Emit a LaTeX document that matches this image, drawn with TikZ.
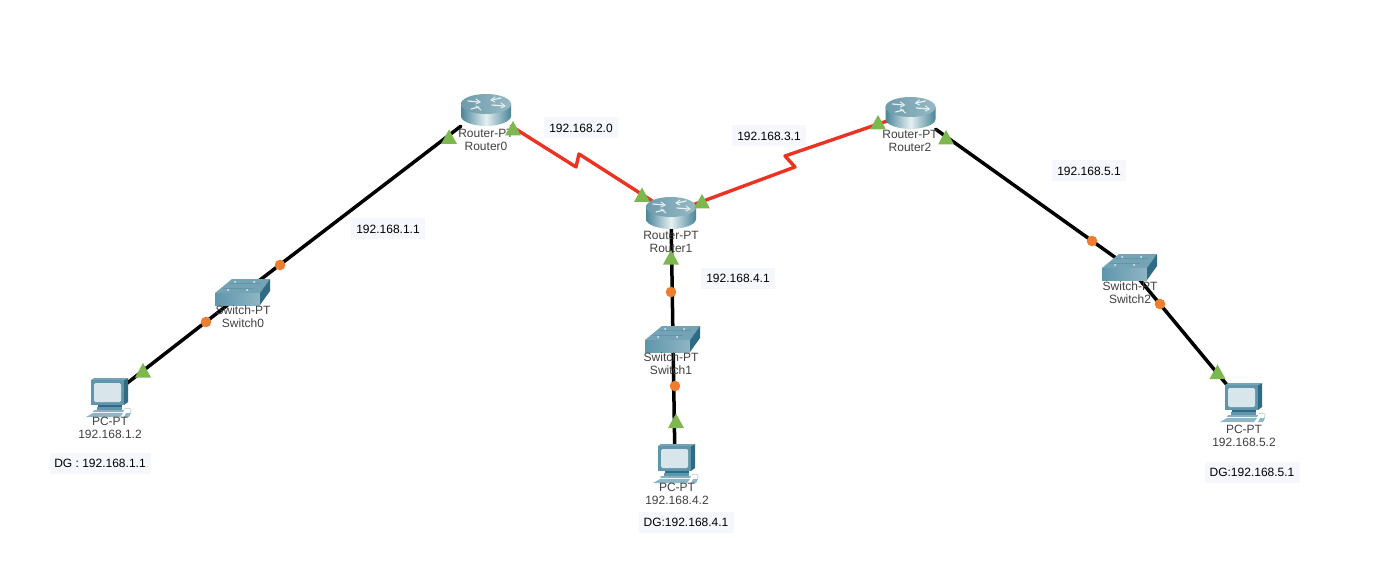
\documentclass[tikz,border=0pt]{standalone}
\usepackage{fontspec}
\setmainfont{Liberation Sans}
\definecolor{linkred}{HTML}{EA3323}
\definecolor{trigreen}{HTML}{7DB84F}
\definecolor{dotorange}{HTML}{EE7D2F}
\definecolor{labelbg}{HTML}{F6F6FD}
\definecolor{devtext}{HTML}{404040}
\definecolor{bodydark}{HTML}{4A8598}
\definecolor{bodylight}{HTML}{E4F0F2}
\definecolor{topa}{HTML}{6E9BAC}
\definecolor{topb}{HTML}{97B9C4}
\definecolor{swtop}{HTML}{74A3B5}
\definecolor{swfront}{HTML}{5F96AB}
\definecolor{swside}{HTML}{2E6C85}
\definecolor{scr}{HTML}{D8E6EC}
\tikzset{
  cable/.style={line width=3.5pt,black,line cap=round,line join=round},
  wan/.style={line width=3.4pt,linkred,line cap=round,line join=round},
  routerbox/.style={inner sep=0pt,minimum width=50pt,minimum height=32pt},
  switchbox/.style={inner sep=0pt,minimum width=40pt,minimum height=24pt},
  pcbox/.style={inner sep=0pt,minimum width=36pt,minimum height=36pt},
  devlabel/.style={inner sep=0pt,align=center,text=devtext,font=\fontsize{12}{12.6}\selectfont},
  note/.style={fill=labelbg,inner sep=0pt,minimum height=21pt,font=\fontsize{12}{13}\selectfont,text=black},
  router/.pic={
    \shade[left color=bodydark,right color=bodydark,middle color=bodylight,shading angle=90]
      (-25,-6) -- (-25,6) .. controls (-25,12) and (-12,16) .. (0,16)
      .. controls (12,16) and (25,12) .. (25,6) -- (25,-6) -- cycle;
    \shade[left color=topa,right color=topb] (0,-6) ellipse [x radius=25pt,y radius=10pt];
    \draw[bodylight,line width=1.2pt,line cap=round]
      (-18,-9) -- (-7,-8) (-7,-3) -- (-15,-1) (6,-10) -- (15,-12) (6,-5) -- (18,-4);
    \draw[bodylight,line width=1pt,line cap=round]
      (-10,-11) -- (-6,-8) -- (-10,-6) (-10,-4) -- (-5,0) (9,-13) -- (5,-10) -- (9,-8) (15,-7) -- (19,-4) -- (15,-2);
  },
  switchicon/.pic={
    \fill[swtop] (-28,0) -- (17,0) -- (27,-14) -- (-11,-14) -- cycle;
    \shade[left color=swfront,right color=swtop!80!white] (-28,0) rectangle (17,12);
    \fill[swside] (17,0) -- (27,-14) -- (27,-2) -- (17,12) -- cycle;
    \fill[white!85!swtop] (-15,-3) circle (1pt) (4,-3) circle (1pt) (-8,-11) circle (1pt) (11,-11) circle (1pt);
    \draw[swfront,line width=.6pt] (-20,-5) -- (10,-5) (-14,-10) -- (18,-10);
  },
  pcicon/.pic={
    \fill[swside] (16,-18) -- (20,-20) -- (20,4) -- (16,7) -- cycle;
    \fill[swtop] (-17,-18) -- (-14,-20) -- (20,-20) -- (16,-18) -- cycle;
    \fill[swfront] (-17,-18) rectangle (16,7);
    \fill[scr,rounded corners=1.5pt] (-14,-15) rectangle (13,4);
    \fill[swside] (-10,7) rectangle (14,9);
    \fill[swfront] (-11,9) rectangle (14,12);
    \fill[swfront!75!white] (-14,12) -- (16,12) -- (15,14) -- (-15,14) -- cycle;
    \fill[swfront!70!white] (-15,15) -- (15,15) -- (12,19) -- (-22,19) -- cycle;
    \fill[swfront!70!white] (18,15) -- (23,15) -- (21,19) -- (16,19) -- cycle;
    \draw[swtop!45!white,line width=.7pt] (16,11) .. controls (22,9) and (25,11) .. (22,15);
  }
}
\newcommand{\tri}[2]{\fill[trigreen] (#1,#2) -- ++(8,14.5) -- ++(-16,0) -- cycle;}
\newcommand{\dotmark}[2]{\fill[dotorange] (#1,#2) circle (5.3pt);}
\begin{document}
\begin{tikzpicture}[x=1pt,y=-1pt]
\useasboundingbox (0,0) rectangle (1376,564);
\fill[white] (0,0) rectangle (1376,564);
% device anchors
\node[routerbox] (r0) at (486,110) {};
\node[routerbox] (r1) at (671,213) {};
\node[routerbox] (r2) at (910.5,113) {};
\node[switchbox] (sw0) at (243,293) {};
\node[switchbox] (sw1) at (673,340) {};
\node[switchbox] (sw2) at (1130,268) {};
\node[pcbox] (pc0) at (108,398) {};
\node[pcbox] (pc1) at (675,464) {};
\node[pcbox] (pc2) at (1242,403) {};
\coordinate (z1) at (576,167);
\coordinate (z2) at (579,154);
\coordinate (z3) at (795,167);
\coordinate (z4) at (785,156);
% links
\draw[cable] (r0.south west) -- (sw0.center);
\draw[cable] (sw0.center) -- (pc0.center);
\draw[cable] (r1.center) -- (sw1.center);
\draw[cable] (sw1.center) -- (pc1.center);
\draw[cable] (r2.south east) -- (sw2.center);
\draw[cable] (sw2.center) -- (pc2.center);
\draw[wan] (r0.south east) -- (z1) -- (z2) -- (r1.center);
\draw[wan] (r1.center) -- (z3) -- (z4) -- (r2.center);
% icons
\pic at (r0) {router};
\pic at (r1) {router};
\pic at (r2) {router};
\pic at (sw0) {switchicon};
\pic at (sw1) {switchicon};
\pic at (sw2) {switchicon};
\pic at (pc0) {pcicon};
\pic at (pc1) {pcicon};
\pic at (pc2) {pcicon};
% device labels
\node[devlabel] (lr0) at (486,140) {Router-PT\\Router0};
\node[devlabel] (lr1) at (671,242) {Router-PT\\Router1};
\node[devlabel] (lr2) at (910,141) {Router-PT\\Router2};
\node[devlabel] (lsw0) at (243,317) {Switch-PT\\Switch0};
\node[devlabel] (lsw1) at (671,364) {Switch-PT\\Switch1};
\node[devlabel] (lsw2) at (1130,293) {Switch-PT\\Switch2};
\node[devlabel] (lpc0) at (110,428) {PC-PT\\192.168.1.2};
\node[devlabel] (lpc1) at (677,494) {PC-PT\\192.168.4.2};
\node[devlabel] (lpc2) at (1244,436) {PC-PT\\192.168.5.2};
% notes
\node[note,minimum width=74pt] (n20) at (581,128) {192.168.2.0};
\node[note,minimum width=74pt] (n11) at (388,229) {192.168.1.1};
\node[note,minimum width=74pt] (n31) at (769,136) {192.168.3.1};
\node[note,minimum width=74pt] (n51) at (1089,171) {192.168.5.1};
\node[note,minimum width=74pt] (n41) at (738,278) {192.168.4.1};
\node[note,minimum width=101pt] (dg1) at (100,463) {DG : 192.168.1.1};
\node[note,minimum width=95pt] (dg4) at (686,522) {DG:192.168.4.1};
\node[note,minimum width=95pt] (dg5) at (1252,472) {DG:192.168.5.1};
% link lights
\tri{449}{129.5}\tri{513}{121}\tri{642}{187.5}\tri{702}{194}\tri{671}{250}
\tri{878}{115}\tri{946}{130}\tri{143}{363}\tri{676}{413.5}\tri{1217.5}{364.5}
\dotmark{280}{265}\dotmark{206}{322}\dotmark{671}{292}\dotmark{675}{386}\dotmark{1092}{241}\dotmark{1160}{304}
\end{tikzpicture}
\end{document}
